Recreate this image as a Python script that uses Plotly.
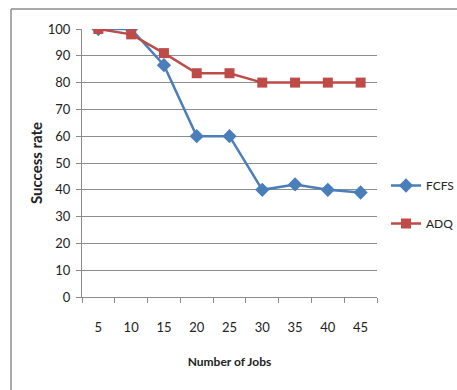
import plotly.graph_objects as go

jobs = [5, 10, 15, 20, 25, 30, 35, 40, 45]
fcfs = [100, 100, 86.5, 60, 60, 40, 42, 40, 39]
adq = [100, 98, 91, 83.5, 83.5, 80, 80, 80, 80]
y_ticks = [0, 10, 20, 30, 40, 50, 60, 70, 80, 90, 100]

FONT = "Lato, Liberation Sans, sans-serif"

fig = go.Figure()
fig.add_trace(go.Scatter(
    x=jobs, y=fcfs, name="FCFS", mode="lines+markers", legendgroup="a",
    line=dict(color="#4a7ebb", width=2.5),
    marker=dict(symbol="diamond", size=11, color="#4a7ebb"),
))
fig.add_trace(go.Scatter(
    x=jobs, y=adq, name="ADQ", mode="lines+markers", legendgroup="b",
    line=dict(color="#be4b48", width=2.5),
    marker=dict(symbol="square", size=10, color="#be4b48"),
))

# plot area spans x 82..377, y 29..297 px
L, R, T, B = 82, 377, 29, 297
W, H = 457, 390

def px(x):
    return (x - L) / (R - L)

def py(y):
    return (B - y) / (B - T)

fig.add_shape(type="line", xref="paper", yref="paper",
              x0=px(11), x1=px(457), y0=py(9), y1=py(9),
              line=dict(color="#8c8c8c", width=1.5))
fig.add_shape(type="line", xref="paper", yref="paper",
              x0=px(11), x1=px(11), y0=py(9), y1=py(392),
              line=dict(color="#8c8c8c", width=1.5))

fig.update_layout(
    width=W, height=H,
    margin=dict(l=L, r=W - R, t=T, b=H - B, autoexpand=False),
    paper_bgcolor="white", plot_bgcolor="white",
    font=dict(family=FONT, size=13, color="#222"),
    showlegend=True,
    legend=dict(x=px(386), y=py(171), xanchor="left", yanchor="top",
                traceorder="grouped", tracegroupgap=19,
                font=dict(family=FONT, size=12, color="#222"),
                itemwidth=30, bgcolor="rgba(0,0,0,0)"),
    xaxis=dict(
        range=[2.5, 47.5], tickvals=jobs, ticktext=[str(j) for j in jobs],
        ticks="", showgrid=False, zeroline=False,
        showline=True, linecolor="#8c8c8c", linewidth=1,
        ticklabelstandoff=18,
        minor=dict(tick0=2.5, dtick=5, ticks="outside", ticklen=5,
                   tickcolor="#8c8c8c", showgrid=False),
        title=dict(text="<b>Number of Jobs</b>", standoff=24,
                   font=dict(family=FONT, size=12, color="#222")),
        fixedrange=True,
    ),
    yaxis=dict(
        range=[0, 100], tickvals=y_ticks, ticks="outside", ticklen=5,
        tickcolor="#8c8c8c", showgrid=True, gridcolor="#8c8c8c", gridwidth=1,
        zeroline=False, showline=True, linecolor="#8c8c8c", linewidth=1,
        ticklabelstandoff=3,
        title=dict(text="<b>Success rate</b>", standoff=1,
                   font=dict(family=FONT, size=15, color="#222")),
        fixedrange=True,
    ),
)

fig.write_html("out.html")
